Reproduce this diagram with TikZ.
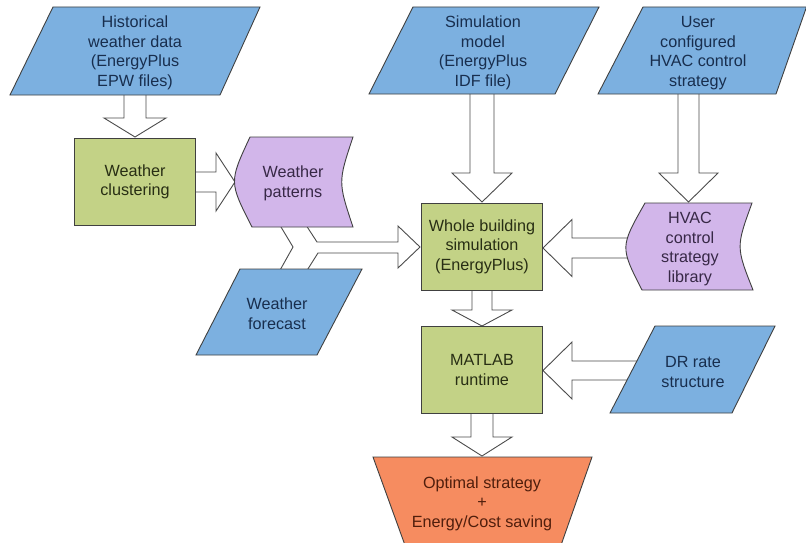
\documentclass[tikz,border=0pt]{standalone}
\usepackage{fontspec}
\setmainfont{Liberation Sans}
\begin{document}
\begin{tikzpicture}[x=1pt,y=-1pt,
  outl/.style={draw=black!75, line width=0.9pt, line join=miter},
  blk/.style={draw=black!70, line width=0.9pt, fill=white},
  bluefill/.style={outl, fill=shapeblue},
  greenbox/.style={outl, fill=shapegreen, minimum width=121pt, minimum height=87pt, inner sep=0pt, align=center, font=\txtfont, text=greentext},
  purplefill/.style={outl, fill=shapepurple},
  txt/.style={align=center, font=\txtfont, inner sep=0pt},
  bluetxt/.style={txt, text=bluetext},
  purpletxt/.style={txt, text=purpletext},
]
\definecolor{shapeblue}{RGB}{124,176,224}
\definecolor{shapegreen}{RGB}{195,210,134}
\definecolor{shapepurple}{RGB}{210,182,234}
\definecolor{shapeorange}{RGB}{246,140,96}
\definecolor{bluetext}{RGB}{24,46,78}
\definecolor{greentext}{RGB}{40,46,20}
\definecolor{purpletext}{RGB}{55,40,70}
\definecolor{orangetext}{RGB}{80,30,12}
\newcommand\txtfont{\fontsize{16.2}{19.5}\selectfont}
% vertical arrow down: x, ystart, ytip, shaft half, head half, head length
\newcommand\vdarrow[6]{\filldraw[blk] (#1-#4,#2) -- (#1-#4,#3-#6) -- (#1-#5,#3-#6) -- (#1,#3) -- (#1+#5,#3-#6) -- (#1+#4,#3-#6) -- (#1+#4,#2);}
% horizontal arrow right: y, xstart, xtip, shaft half, head half, head length
\newcommand\hrarrow[6]{\filldraw[blk] (#2,#1-#4) -- (#3-#6,#1-#4) -- (#3-#6,#1-#5) -- (#3,#1) -- (#3-#6,#1+#5) -- (#3-#6,#1+#4) -- (#2,#1+#4);}
% horizontal arrow left
\newcommand\hlarrow[6]{\filldraw[blk] (#2,#1-#4) -- (#3+#6,#1-#4) -- (#3+#6,#1-#5) -- (#3,#1) -- (#3+#6,#1+#5) -- (#3+#6,#1+#4) -- (#2,#1+#4);}

\useasboundingbox (0,0) rectangle (806,543);
\fill[white] (0,0) rectangle (806,543);

% ---------- block arrows (drawn first, shapes cover their tails) ----------
\vdarrow{135}{90}{137}{11}{31}{19}
\hrarrow{182}{190}{235}{10}{29}{19}
\vdarrow{482}{88}{202}{12}{30}{29}
\vdarrow{688.5}{88}{202}{10.5}{29.5}{29}
\hlarrow{248}{640}{543}{10}{28.5}{29}
\vdarrow{482}{285}{326}{10}{30}{16}
\hlarrow{370.5}{645}{543}{9.5}{28.5}{29}
\vdarrow{482}{408}{456}{11}{30}{19}
% merge arrow (weather patterns + weather forecast)
\filldraw[blk] (278,222) -- (293,247) -- (279,272) -- (306,272) -- (318,253) -- (398,253) -- (398,268)
  -- (420,247) -- (398,226) -- (398,242) -- (317,242) -- (304,222) -- cycle;

% ---------- shapes ----------
% parallelograms (data)
\filldraw[bluefill] (53,7) -- (260,7) -- (220,95) -- (10,95) -- cycle;
\filldraw[bluefill] (413,7) -- (599,7) -- (555,94) -- (369,94) -- cycle;
\filldraw[bluefill] (643,7) -- (806.5,7) -- (776,94) -- (598,94) -- cycle;
\filldraw[bluefill] (240,269) -- (362,269) -- (317,355) -- (196,355) -- cycle;
\filldraw[bluefill] (655,326) -- (775,326) -- (732,413) -- (610,413) -- cycle;
% stored data shapes
\filldraw[purplefill] (250,137) -- (353,137) .. controls (338,182) .. (353,227) -- (252,227) .. controls (229,182) .. (250,137) -- cycle;
\filldraw[purplefill] (645,203) -- (752,203) .. controls (736,247) .. (753,290) -- (642,290) .. controls (620,247) .. (645,203) -- cycle;
% output trapezoid
\filldraw[outl, fill=shapeorange] (373,457) -- (592,457) -- (560,548) -- (406,548) -- cycle;

% ---------- nodes ----------
\node[bluetxt] (hist) at (135,53) {Historical\\weather data\\(EnergyPlus\\EPW files)};
\node[bluetxt] (sim) at (483,53) {Simulation\\model\\(EnergyPlus\\IDF file)};
\node[bluetxt] (user) at (698,53) {User\\configured\\HVAC control\\strategy};
\node[greenbox] (clust) at (135,182) {Weather\\clustering};
\node[purpletxt] (pat) at (293,183.5) {Weather\\patterns};
\node[greenbox] (whole) at (482,246.5) {Whole building\\simulation\\(EnergyPlus)};
\node[purpletxt] (lib) at (690,249) {HVAC\\control\\strategy\\library};
\node[bluetxt] (fore) at (277,313.5) {Weather\\forecast};
\node[greenbox] (mat) at (482,370) {MATLAB\\runtime};
\node[bluetxt] (dr) at (693,372) {DR rate\\structure};
\node[txt, text=orangetext] (opt) at (482,503.5) {Optimal strategy\\+\\Energy/Cost saving};
\end{tikzpicture}
\end{document}
